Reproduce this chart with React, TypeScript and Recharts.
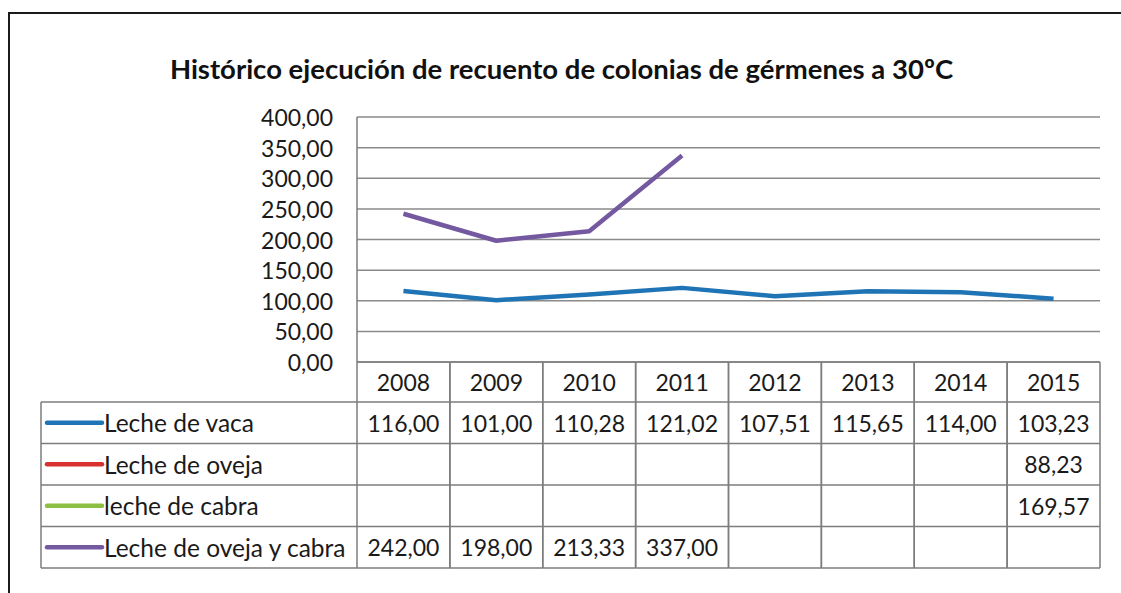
import React from 'react';
import { LineChart, Line, XAxis, YAxis, CartesianGrid } from 'recharts';

const years = ['2008', '2009', '2010', '2011', '2012', '2013', '2014', '2015'];
const lecheVaca = [116.0, 101.0, 110.28, 121.02, 107.51, 115.65, 114.0, 103.23];
const lecheOveja = [null, null, null, null, null, null, null, 88.23];
const lecheCabra = [null, null, null, null, null, null, null, 169.57];
const lecheOvejaCabra = [242.0, 198.0, 213.33, 337.0, null, null, null, null];
const seriesNames = ['Leche de vaca', 'Leche de oveja', 'leche de cabra', 'Leche de oveja y cabra'];
const seriesKeys = ['vaca', 'oveja', 'cabra', 'ovejaCabra'];
const seriesColors = ['#1f74b5', '#d9312f', '#8bc043', '#7459a0'];
const yTicks = [0, 50, 100, 150, 200, 250, 300, 350, 400];
const title = 'Histórico ejecución de recuento de colonias de gérmenes a 30ºC';

const data = years.map((year, i) => ({
  year,
  vaca: lecheVaca[i],
  oveja: lecheOveja[i],
  cabra: lecheCabra[i],
  ovejaCabra: lecheOvejaCabra[i],
}));
const seriesValues = [lecheVaca, lecheOveja, lecheCabra, lecheOvejaCabra];

const fmt = (v: number | null) => (v == null ? '' : v.toFixed(2).replace('.', ','));

const FONT = 'Lato, "Open Sans", sans-serif';
const W = 1121;
const H = 593;
const PLOT_LEFT = 357;
const PLOT_RIGHT = 1100;
const PLOT_TOP = 117;
const PLOT_BOTTOM = 362;
const COL_W = (PLOT_RIGHT - PLOT_LEFT) / years.length;
const HEADER_H = 40;
const ROW_H = 41.5;
const LABEL_LEFT = 41;
const BORDER = '#7d7d7d';
const TEXT = '#1a1a1a';
const XAXIS_H = HEADER_H + ROW_H * 4 + 2;

const TableTick = (props: any) => {
  const { x, y, payload } = props;
  const idx = payload.index;
  const left = x - COL_W / 2;
  const right = x + COL_W / 2;
  const top = y;
  const bottom = top + HEADER_H + ROW_H * 4;
  const els: any[] = [];
  els.push(<line key="l" x1={left} y1={top} x2={left} y2={bottom} stroke={BORDER} strokeWidth={1.5} />);
  els.push(<line key="r" x1={right} y1={top} x2={right} y2={bottom} stroke={BORDER} strokeWidth={1.5} />);
  for (let r = 0; r <= 4; r++) {
    const yy = top + HEADER_H + r * ROW_H;
    els.push(<line key={'h' + r} x1={left} y1={yy} x2={right} y2={yy} stroke={BORDER} strokeWidth={1.5} />);
  }
  els.push(<line key="ht" x1={left} y1={top} x2={right} y2={top} stroke={BORDER} strokeWidth={1.5} />);
  els.push(
    <text key="yr" x={x} y={top + HEADER_H / 2} textAnchor="middle" dominantBaseline="central"
      fontFamily={FONT} fontSize={23} fill={TEXT}>{payload.value}</text>
  );
  seriesValues.forEach((vals, r) => {
    els.push(
      <text key={'v' + r} x={x} y={top + HEADER_H + r * ROW_H + ROW_H / 2} textAnchor="middle"
        dominantBaseline="central" fontFamily={FONT} fontSize={23} fill={TEXT}>{fmt(vals[idx])}</text>
    );
  });
  if (idx === 0) {
    for (let r = 0; r <= 4; r++) {
      const yy = top + HEADER_H + r * ROW_H;
      els.push(<line key={'lh' + r} x1={LABEL_LEFT} y1={yy} x2={left} y2={yy} stroke={BORDER} strokeWidth={1.5} />);
    }
    els.push(<line key="ll" x1={LABEL_LEFT} y1={top + HEADER_H} x2={LABEL_LEFT} y2={bottom} stroke={BORDER} strokeWidth={1.5} />);
    seriesNames.forEach((name, r) => {
      const cy = top + HEADER_H + r * ROW_H + ROW_H / 2;
      els.push(<line key={'sw' + r} x1={LABEL_LEFT + 6} y1={cy} x2={LABEL_LEFT + 61} y2={cy} stroke={seriesColors[r]} strokeWidth={4.5} strokeLinecap="round" />);
      els.push(
        <text key={'n' + r} x={LABEL_LEFT + 63} y={cy} textAnchor="start" dominantBaseline="central"
          fontFamily={FONT} fontSize={24.5} fill={TEXT}>{name}</text>
      );
    });
  }
  return <g>{els}</g>;
};

const YTick = (props: any) => {
  const { x, y, payload } = props;
  return (
    <text x={x} y={y} textAnchor="end" dominantBaseline="central" fontFamily={FONT} fontSize={23} fill={TEXT}>
      {fmt(payload.value)}
    </text>
  );
};

export default function App() {
  return (
    <div style={{ position: 'absolute', left: 0, top: 0, width: W, height: H, background: '#ffffff', overflow: 'hidden' }}>
      <div style={{ position: 'absolute', left: 8, top: 12, width: W, height: H, borderTop: '2px solid #1a1a1a', borderLeft: '2px solid #1a1a1a' }} />
      <div style={{ position: 'absolute', left: 0, width: 1123, top: 52, lineHeight: '33px', textAlign: 'center', fontFamily: FONT, fontWeight: 700, fontSize: 27.5, color: '#111', whiteSpace: 'nowrap' }}>
        {title}
      </div>
      <div style={{ position: 'absolute', left: 0, top: 0 }}>
        <LineChart
          width={W}
          height={H}
          data={data}
          margin={{ top: PLOT_TOP, right: W - PLOT_RIGHT, left: PLOT_LEFT - 80, bottom: H - PLOT_BOTTOM - XAXIS_H }}
        >
          <CartesianGrid vertical={false} stroke="#8a8a8a" strokeWidth={1.5} />
          <XAxis
            dataKey="year"
            height={XAXIS_H}
            padding={{ left: COL_W / 2, right: COL_W / 2 }}
            tickLine={false}
            axisLine={false}
            tickSize={0}
            tickMargin={0}
            interval={0}
            tick={<TableTick />}
          />
          <YAxis
            width={80}
            domain={[0, 400]}
            ticks={yTicks}
            interval={0}
            tickLine={false}
            tickSize={0}
            tickMargin={24}
            axisLine={{ stroke: BORDER, strokeWidth: 1.5 }}
            tick={<YTick />}
          />
          {seriesKeys.map((k, i) => (
            <Line
              key={k}
              dataKey={k}
              type="linear"
              stroke={seriesColors[i]}
              strokeWidth={4.5}
              dot={false}
              activeDot={false}
              connectNulls={false}
              isAnimationActive={false}
              strokeLinejoin="round"
            />
          ))}
        </LineChart>
      </div>
    </div>
  );
}
